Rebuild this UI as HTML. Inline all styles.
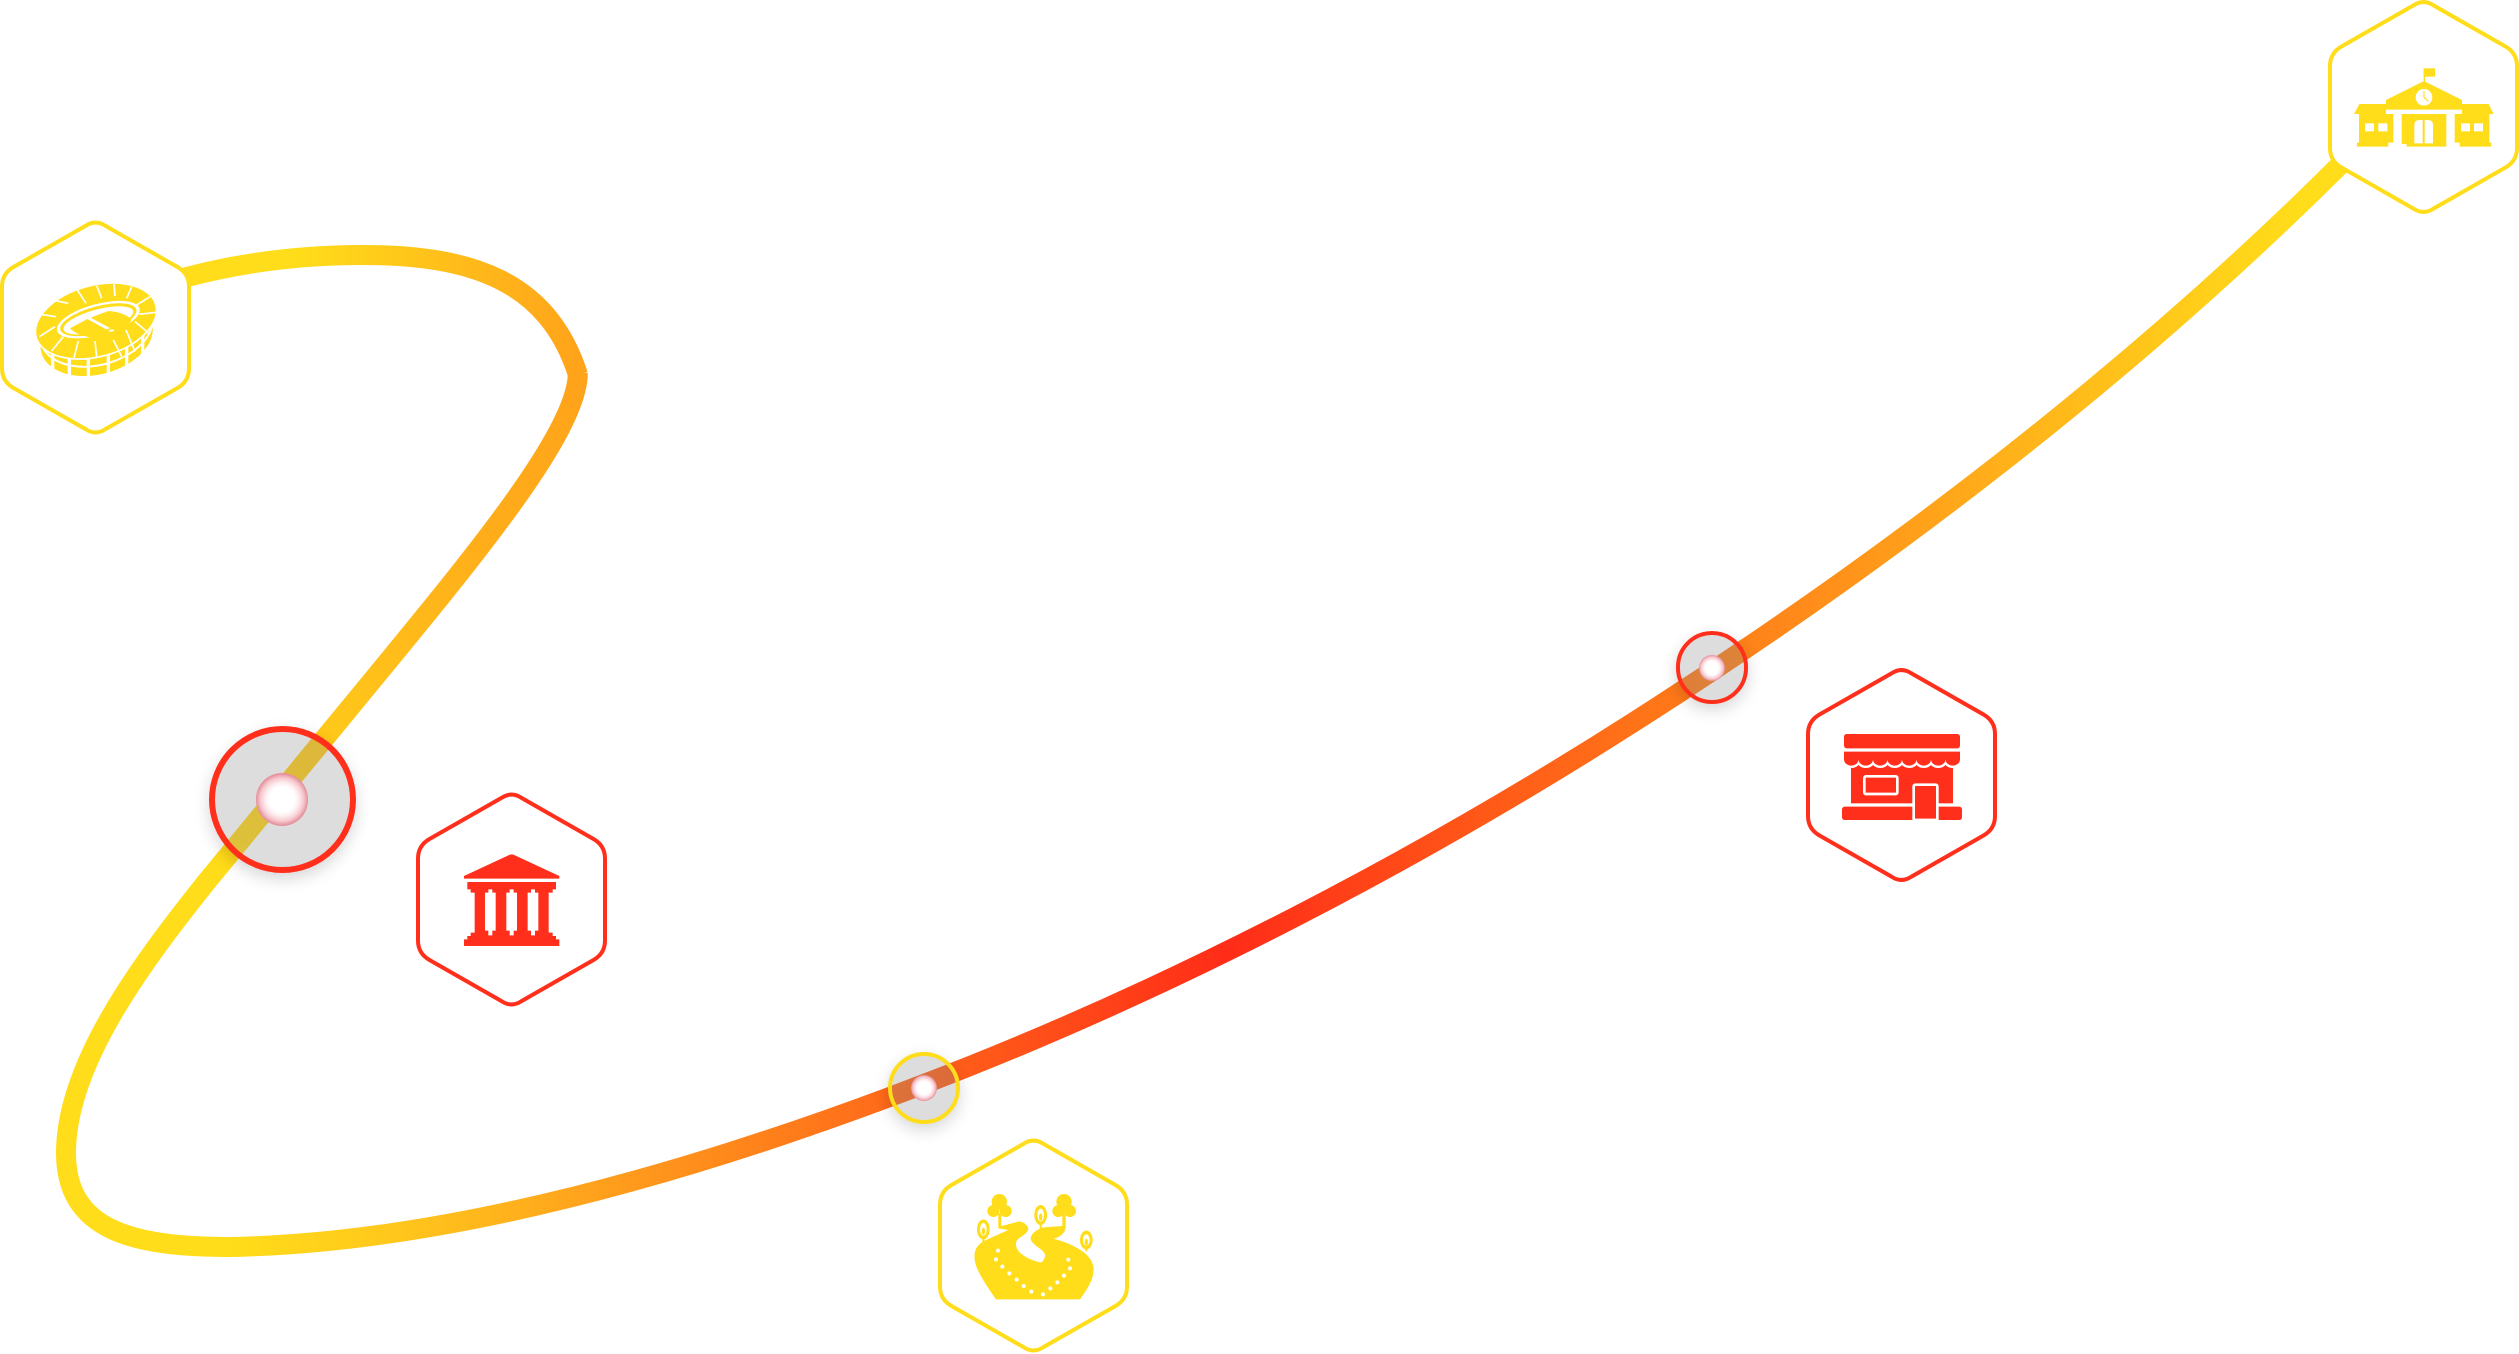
<!DOCTYPE html>
<html><head><meta charset="utf-8">
<style>
html,body{margin:0;padding:0;background:#fff}
body{width:2519px;height:1354px;position:relative;overflow:hidden}
svg{position:absolute;left:0;top:0}
.c{position:absolute;border-radius:50%;box-sizing:border-box;background:rgba(138,138,138,.29);box-shadow:0 6px 16px rgba(0,0,0,.16)}
.d{position:absolute;border-radius:50%;background:radial-gradient(circle closest-side,#fff 0,#fff 48%,#fdeef0 64%,#f6c6cc 84%,#e58e9a 100%)}
</style></head><body>
<svg width="2519" height="1354" viewBox="0 0 2519 1354" xmlns="http://www.w3.org/2000/svg">
<defs>
<linearGradient id="g1" gradientUnits="userSpaceOnUse" x1="296" y1="0" x2="580" y2="0"><stop offset="0" stop-color="#FFDD1A"/><stop offset="1" stop-color="#FFA31A"/></linearGradient>
<linearGradient id="g2" gradientUnits="userSpaceOnUse" x1="578" y1="375" x2="208" y2="880"><stop offset="0" stop-color="#FFA31A"/><stop offset=".3" stop-color="#FFAD1A"/><stop offset="1" stop-color="#FFDD1A"/></linearGradient>
<linearGradient id="g3" gradientUnits="userSpaceOnUse" x1="230" y1="0" x2="2300" y2="0"><stop offset="0" stop-color="#FFDD1A"/><stop offset=".082" stop-color="#FFC61C"/><stop offset=".179" stop-color="#FFA01C"/><stop offset=".315" stop-color="#FF6B1A"/><stop offset=".482" stop-color="#FF2C18"/><stop offset=".686" stop-color="#FF7518"/><stop offset=".758" stop-color="#FF8A1A"/><stop offset=".855" stop-color="#FFB01A"/><stop offset="1" stop-color="#FFDD1A"/></linearGradient>
<path id="hex" d="M-10,-101.6 Q0,-108.3 10,-101.6 L82,-60.5 Q93.5,-53.9 93.5,-41 V41 Q93.5,53.9 82,60.5 L10,101.6 Q0,108.3 -10,101.6 L-82,60.5 Q-93.5,53.9 -93.5,41 V-41 Q-93.5,-53.9 -82,-60.5 Z" fill="#fff" stroke-width="4"/>
</defs>

<g fill="none" stroke-width="20">
<path stroke="url(#g1)" d="M130,291 L187,277 C240,263 300,255 363,255 C470,255 548,280 578,375"/>
<path stroke="url(#g2)" d="M577.8,373 C578,435 462,571 348,710 L206,882.5"/>
<path stroke="#FFDD1A" d="M208,880 C140,965 66,1065 66,1153 C66,1232 135,1247 232,1247"/>
<path stroke="url(#g3)" d="M230,1247 C450,1243 700,1170 924,1084 C1170,990 1420,859 1637,720 C1880,565 2130,375 2345,160"/>
</g>

<g stroke="#FFDD1A"><use href="#hex" transform="translate(95.5 327.5)"/><use href="#hex" transform="translate(1033.5 1245.5)"/><use href="#hex" transform="translate(2423.5 107)"/></g>
<g stroke="#FF2F1C"><use href="#hex" transform="translate(511.5 899.5)"/><use href="#hex" transform="translate(1901.5 775)"/></g>

<!-- stadium -->
<g transform="translate(0 215) scale(.33333)" fill="#FFDD1A">
<ellipse cx="290" cy="368" rx="172" ry="110" transform="rotate(-15 290 368)"/>
<ellipse cx="290" cy="340" rx="172" ry="110" transform="rotate(-15 290 340)" fill="none" stroke="#fff" stroke-width="6"/>
<g stroke="#fff" stroke-width="10"><path d="M158,350V490M208,350V490M265,350V490M325,350V490M380,350V490M428,350V490"/></g>
<ellipse cx="288" cy="318" rx="186" ry="107" transform="rotate(-15 288 318)" stroke="#fff" stroke-width="5"/>
<path fill="none" stroke="#fff" stroke-width="5" d="M232,225L258,265M290,212L305,250M342,207L345,243M395,215L380,250M450,245L410,270M468,292L418,298M447,355L405,320M405,410L378,345M365,425L340,375M290,425L285,378M222,428L235,378M155,408L190,365M118,365L165,335M120,298L168,305M170,258L205,265"/>
<ellipse cx="295" cy="314" rx="128" ry="47" transform="rotate(-15 295 314)" fill="#fff"/>
<ellipse cx="295" cy="314" rx="118" ry="40" transform="rotate(-15 295 314)"/>
<ellipse cx="295" cy="316" rx="108" ry="33" transform="rotate(-15 295 316)" fill="#fff"/>
<path d="M272,308L325,288C355,290 385,300 395,315C385,330 368,342 350,350Z"/>
<path d="M210,340L262,312L340,355C320,364 300,368 280,368C250,365 225,355 210,340Z"/>
</g>

<!-- bank -->
<g transform="translate(400 780) scale(.33333)" fill="#FF2F1C">
<path d="M192,288L325,226Q335,220 345,226L478,288V296H192Z"/>
<path d="M202,306H468V328H458V338H446V458H458V468H468V478H478V498H192V478H202V468H212V458H224V338H212V328H202Z"/>
<path fill="#fff" d="M265,328H277V338H287V452H277V466H265V452H255V338H265Z"/>
<path fill="#fff" d="M329,328H341V338H351V452H341V466H329V452H319V338H329Z"/>
<path fill="#fff" d="M393,328H405V338H415V452H405V466H393V452H383V338H393Z"/>
</g>

<!-- shop -->
<g transform="translate(1660 620) scale(.33333)" fill="#FF2F1C">
<rect x="573" y="425" width="306" height="125"/>
<path fill="none" stroke="#fff" stroke-width="14" d="M552,418a21.75,19 0 0 0 43.5,0a21.75,19 0 0 0 43.5,0a21.75,19 0 0 0 43.5,0a21.75,19 0 0 0 43.5,0a21.75,19 0 0 0 43.5,0a21.75,19 0 0 0 43.5,0a21.75,19 0 0 0 43.5,0a21.75,19 0 0 0 43.5,0"/>
<rect x="552" y="342" width="348" height="43" rx="8"/>
<path d="M552,395H900V418a21.75,19 0 0 1 -43.5,0a21.75,19 0 0 1 -43.5,0a21.75,19 0 0 1 -43.5,0a21.75,19 0 0 1 -43.5,0a21.75,19 0 0 1 -43.5,0a21.75,19 0 0 1 -43.5,0a21.75,19 0 0 1 -43.5,0a21.75,19 0 0 1 -43.5,0Z"/>
<rect x="613" y="469" width="99" height="53" rx="5" stroke="#fff" stroke-width="8"/>
<rect x="546" y="560" width="360" height="40" rx="8"/>
<path d="M761,600V500Q761,494 767,494H826Q832,494 832,500V600Z" stroke="#fff" stroke-width="8"/>
</g>

<!-- park -->
<g transform="translate(860 1040) scale(.33333)" fill="#FFDD1A">
<path d="M408,778H660C680,750 705,715 700,680C695,645 650,615 580,596C600,592 617,580 617,558H607L550,562C525,570 510,585 512,598C520,620 560,630 555,650C552,660 548,668 540,667C510,660 465,640 468,610C470,590 505,585 505,565C500,550 485,545 478,544L425,558L415,565L445,570L378,600C345,615 340,640 345,665C350,695 385,745 408,778Z"/>
<circle cx="418" cy="485" r="23"/><circle cx="400" cy="513" r="18"/><circle cx="437" cy="513" r="18"/><rect x="415" y="520" width="9" height="45"/>
<circle cx="612" cy="485" r="23"/><circle cx="595" cy="513" r="18"/><circle cx="630" cy="513" r="18"/><rect x="607" y="520" width="10" height="45"/>
<ellipse cx="370" cy="568" rx="19" ry="30"/><rect x="367" y="590" width="6" height="20"/><ellipse cx="370" cy="568" rx="10" ry="19" fill="#fff"/><ellipse cx="370" cy="574" rx="5" ry="11"/>
<ellipse cx="542" cy="525" rx="19" ry="30"/><rect x="539" y="548" width="6" height="20"/><ellipse cx="542" cy="525" rx="10" ry="19" fill="#fff"/><ellipse cx="542" cy="531" rx="5" ry="11"/>
<ellipse cx="679" cy="600" rx="19" ry="28"/><rect x="676" y="620" width="6" height="14"/><ellipse cx="679" cy="600" rx="10" ry="17" fill="#fff"/><ellipse cx="679" cy="606" rx="5" ry="10"/>
<g fill="#fff"><circle cx="414" cy="632" r="6"/><circle cx="408" cy="658" r="6"/><circle cx="427" cy="680" r="6"/><circle cx="448" cy="700" r="6"/><circle cx="470" cy="719" r="6"/><circle cx="491" cy="738" r="6"/><circle cx="514" cy="755" r="6"/><circle cx="549" cy="763" r="6"/><circle cx="571" cy="745" r="6"/><circle cx="592" cy="727" r="6"/><circle cx="612" cy="707" r="6"/><circle cx="630" cy="685" r="6"/><circle cx="625" cy="659" r="6"/></g>
</g>

<!-- school -->
<g transform="translate(2300 0) scale(.33333)" fill="#FFDD1A">
<rect x="371" y="205" width="34" height="25"/><rect x="371" y="205" width="4" height="42"/>
<path d="M258,300L372,243L486,300V329H258Z"/>
<circle cx="372" cy="292" r="25" fill="#fff"/>
<path d="M372,274V292L385,304" fill="none" stroke="#FFDD1A" stroke-width="3.5"/>
<path d="M178,312H258V342H280V428H265V440H171V428H177V342H162Z"/>
<path d="M486,312H566L581,342H568V428H574V440H479V428H464V342H486Z"/>
<path d="M305,342H439V440H320V432H305Z"/>
<g fill="#fff"><rect x="195" y="370" width="27" height="24"/><rect x="235" y="370" width="27" height="24"/><rect x="483" y="370" width="27" height="24"/><rect x="522" y="370" width="27" height="24"/>
<path d="M343,430V376Q343,360 359,360H383Q399,360 399,376V430Z"/></g>
<rect x="368" y="360" width="6" height="70"/>
</g>
</svg>

<div class="c" style="left:208.5px;top:726px;width:147px;height:147px;border:6px solid #FF2F1C"></div>
<div class="d" style="left:255.7px;top:773.4px;width:52.6px;height:52.6px"></div>
<div class="c" style="left:887.6px;top:1051.6px;width:72.8px;height:72.8px;border:4px solid #FFDD1A"></div>
<div class="d" style="left:911px;top:1075px;width:26px;height:26px"></div>
<div class="c" style="left:1675.6px;top:631.4px;width:72.8px;height:72.8px;border:4px solid #FF2F1C"></div>
<div class="d" style="left:1699px;top:654.8px;width:26px;height:26px"></div>
</body></html>
